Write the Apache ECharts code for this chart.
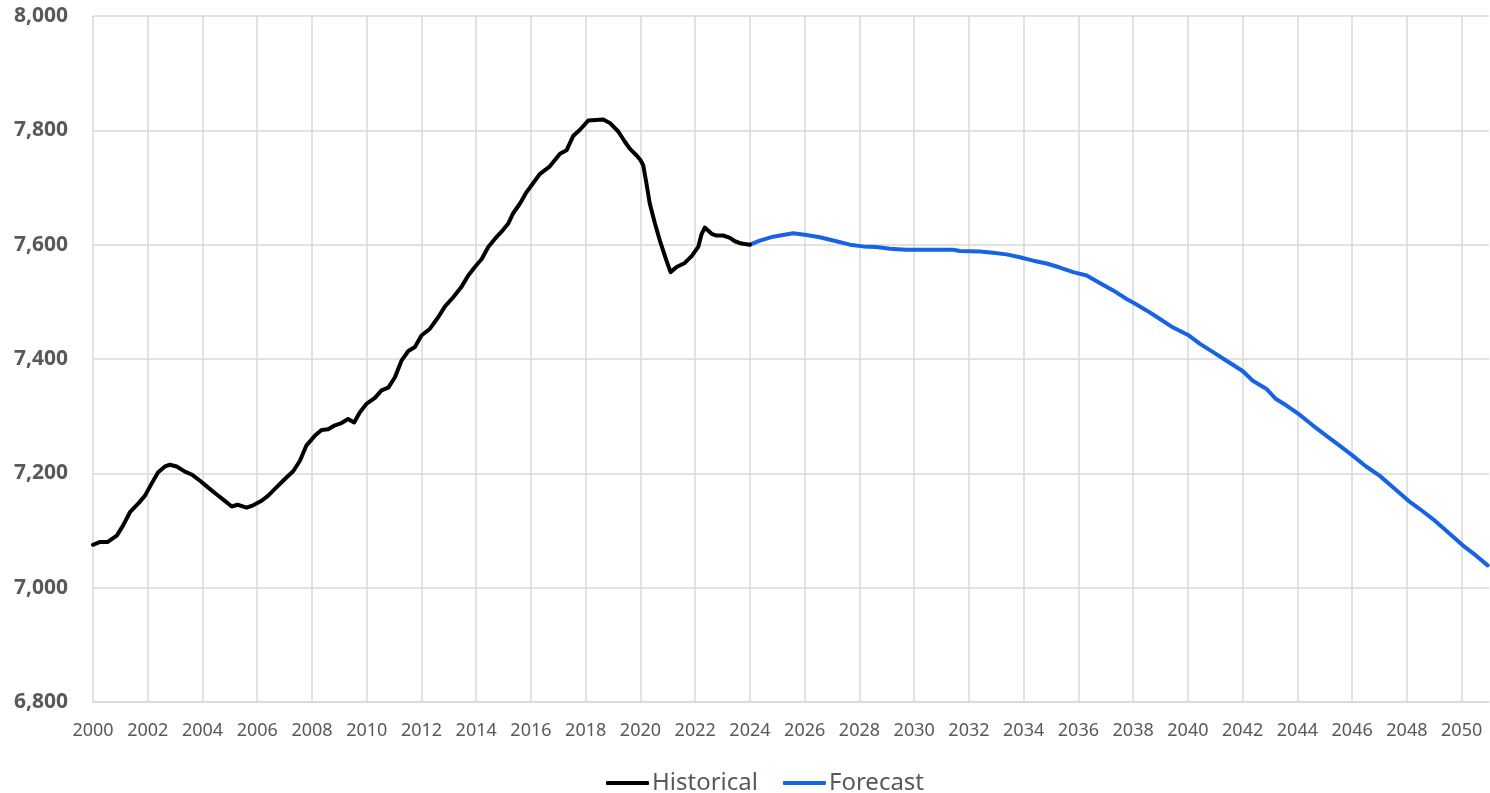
<!DOCTYPE html>
<html>
<head>
<meta charset="utf-8">
<title>Historical vs Forecast</title>
<script src="https://cdn.jsdelivr.net/npm/echarts@6/dist/echarts.min.js"></script>
<style>
  html, body { margin: 0; padding: 0; background: #fff; }
  #chart { width: 1490px; height: 793px; }
</style>
</head>
<body>
<div id="chart"></div>
<script>
const histYears = [
  2000.00, 2000.26, 2000.54, 2000.87, 2001.10, 2001.35, 2001.65, 2001.90, 2002.14, 2002.38,
  2002.63, 2002.81, 2003.06, 2003.36, 2003.60, 2003.91, 2004.21, 2004.52, 2004.76, 2005.07,
  2005.28, 2005.61, 2005.85, 2006.16, 2006.40, 2006.71, 2007.01, 2007.32, 2007.56, 2007.80,
  2008.11, 2008.35, 2008.59, 2008.84, 2009.08, 2009.32, 2009.54, 2009.75, 2010.00, 2010.30,
  2010.54, 2010.79, 2011.03, 2011.27, 2011.52, 2011.76, 2012.00, 2012.31, 2012.61, 2012.86,
  2013.16, 2013.47, 2013.71, 2013.95, 2014.20, 2014.44, 2014.68, 2014.95, 2015.17, 2015.35,
  2015.60, 2015.84, 2016.33, 2016.69, 2017.06, 2017.30, 2017.54, 2017.79, 2018.09, 2018.15,
  2018.64, 2018.88, 2019.19, 2019.43, 2019.61, 2019.86, 2020.00, 2020.10, 2020.22, 2020.34,
  2020.53, 2020.71, 2020.95, 2021.10, 2021.32, 2021.62, 2021.87, 2022.11, 2022.23, 2022.35,
  2022.60, 2022.78, 2023.02, 2023.27, 2023.45, 2023.69, 2024.00
]
const histValues = [
  7075, 7080, 7080, 7091, 7109, 7132, 7147, 7161, 7182, 7202,
  7212, 7215, 7212, 7203, 7198, 7187, 7175, 7163, 7154, 7142,
  7145, 7140, 7144, 7152, 7161, 7176, 7190, 7204, 7222, 7249,
  7266, 7276, 7277, 7284, 7288, 7295, 7289, 7307, 7322, 7332,
  7345, 7350, 7368, 7397, 7414, 7421, 7441, 7453, 7473, 7492,
  7508, 7527, 7546, 7561, 7575, 7596, 7610, 7624, 7637, 7655,
  7672, 7692, 7724, 7737, 7759, 7765, 7790, 7801, 7817, 7819,
  7819, 7813, 7798, 7780, 7768, 7756, 7748, 7739, 7707, 7672,
  7637, 7607, 7572, 7552, 7561, 7568, 7580, 7596, 7618, 7630,
  7619, 7616, 7616, 7612, 7606, 7602, 7600
]

const fcYears = [
  2024.00, 2024.36, 2024.85, 2025.21, 2025.58, 2026.07, 2026.55, 2027.16, 2027.65, 2028.13,
  2028.62, 2029.11, 2029.72, 2030.45, 2031.42, 2031.67, 2032.40, 2032.88, 2033.37, 2033.86,
  2034.35, 2034.84, 2035.32, 2035.81, 2036.30, 2036.78, 2037.27, 2037.76, 2038.06, 2038.49,
  2038.98, 2039.46, 2040.04, 2040.43, 2040.92, 2041.41, 2042.00, 2042.37, 2042.86, 2043.22,
  2043.59, 2044.04, 2044.56, 2045.05, 2045.53, 2046.02, 2046.51, 2047.00, 2047.48, 2048.06,
  2048.46, 2048.95, 2049.43, 2050.04, 2050.53, 2050.95
]
const fcValues = [
  7600, 7607, 7614, 7617, 7620, 7617, 7613, 7606, 7600, 7597,
  7596, 7593, 7591, 7591, 7591, 7589, 7588, 7586, 7583, 7578,
  7572, 7567, 7560, 7552, 7546, 7533, 7520, 7505, 7497, 7485,
  7470, 7455, 7441, 7427, 7412, 7397, 7379, 7362, 7348, 7330,
  7319, 7304, 7284, 7266, 7249, 7231, 7212, 7196, 7176, 7152,
  7138, 7120, 7100, 7074, 7056, 7039
]

const seriesNames = ['Historical', 'Forecast']
const seriesColors = ['#000000', '#1763e6']

const pairs = (xs, ys) => xs.map((x, i) => [x, ys[i]])

const chart = echarts.init(document.getElementById('chart'), null, { renderer: 'canvas' })
const gridColor = '#d9d9d9'
const textColor = '#595959'
const font = '"Noto Sans", "DejaVu Sans", sans-serif'

chart.setOption({
  animation: false,
  textStyle: { fontFamily: font },
  grid: { left: 93, right: 1, top: 16, bottom: 91, containLabel: false },
  legend: {
    data: seriesNames,
    left: 601,
    top: 766,
    icon: 'roundRect',
    itemWidth: 43,
    itemHeight: 4,
    itemGap: 25,
    textStyle: { color: textColor, fontSize: 24, fontFamily: font, padding: [0, 0, 0, -2] }
  },
  xAxis: {
    type: 'value',
    min: 2000,
    max: 2051,
    interval: 2,
    axisLine: { show: true, lineStyle: { color: gridColor, width: 1.5 } },
    axisTick: { show: false },
    axisLabel: {
      color: textColor,
      fontSize: 18,
      margin: 20,
      showMaxLabel: false,
      formatter: v => (v % 2 === 0 ? String(v) : '')
    },
    splitLine: { show: true, showMaxLine: false, lineStyle: { color: gridColor, width: 1.5 } }
  },
  yAxis: {
    type: 'value',
    min: 6800,
    max: 8000,
    interval: 200,
    axisLine: { show: false },
    axisTick: { show: false },
    axisLabel: {
      color: textColor,
      fontSize: 21,
      fontWeight: 'bold',
      margin: 25,
      formatter: v => v.toLocaleString('en-US')
    },
    splitLine: { show: true, lineStyle: { color: gridColor, width: 1.5 } }
  },
  series: [
    {
      name: seriesNames[0],
      type: 'line',
      data: pairs(histYears, histValues),
      showSymbol: false,
      color: seriesColors[0],
      lineStyle: { color: seriesColors[0], width: 4, join: 'round', cap: 'round' },
      z: 3
    },
    {
      name: seriesNames[1],
      type: 'line',
      data: pairs(fcYears, fcValues),
      showSymbol: false,
      color: seriesColors[1],
      lineStyle: { color: seriesColors[1], width: 4, join: 'round', cap: 'round' },
      z: 2
    }
  ]
})
</script>
</body>
</html>
